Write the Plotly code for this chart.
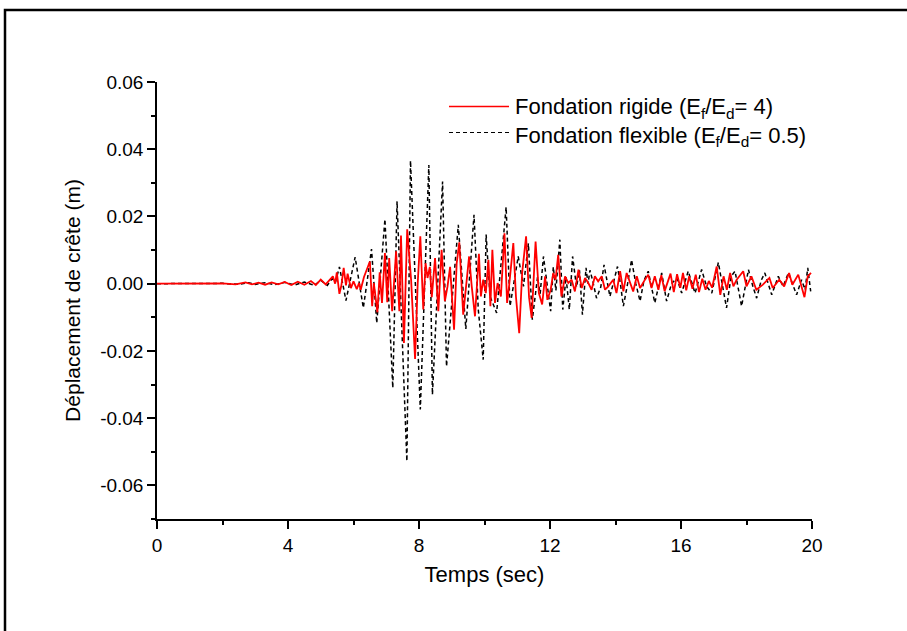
import plotly.graph_objects as go

# ---- data ----
t_rigid = [0.0, 0.5, 1.0, 1.5, 2.0, 2.4, 2.7, 2.9, 3.1, 3.3, 3.5, 3.7, 3.9, 4.1, 4.3, 4.5, 4.7, 4.85, 5.0, 5.15,
           5.37, 5.44, 5.49, 5.57, 5.63, 5.7, 5.77, 5.82, 5.92, 6.0, 6.1, 6.17, 6.22, 6.32, 6.5, 6.57, 6.62, 6.73,
           6.8, 6.87, 6.96, 7.03, 7.09, 7.18, 7.3, 7.4, 7.45, 7.54, 7.64, 7.76, 7.88, 7.96, 8.04, 8.13, 8.2, 8.26,
           8.33, 8.39, 8.49, 8.59, 8.69, 8.79, 8.87, 8.95, 9.07, 9.15, 9.23, 9.35, 9.46, 9.53, 9.61, 9.71, 9.83,
           9.89, 9.96, 10.04, 10.12, 10.18, 10.24, 10.32, 10.4, 10.5, 10.61, 10.69, 10.75, 10.88, 10.96, 11.06,
           11.15, 11.27, 11.36, 11.44, 11.56, 11.66, 11.76, 11.85, 11.92, 12.02, 12.1, 12.17, 12.25, 12.35, 12.46,
           12.56, 12.66, 12.76, 12.87, 12.97, 13.07, 13.17, 13.27, 13.37, 13.47, 13.58, 13.68, 13.78, 13.93, 14.03,
           14.14, 14.24, 14.34, 14.44, 14.54, 14.65, 14.75, 14.9, 15.0, 15.1, 15.2, 15.31, 15.4, 15.5, 15.6, 15.68,
           15.78, 15.88, 15.98, 16.06, 16.16, 16.25, 16.35, 16.45, 16.55, 16.65, 16.75, 16.85, 16.95, 17.09, 17.2,
           17.3, 17.4, 17.5, 17.6, 17.7, 17.9, 18.0, 18.15, 18.3, 18.5, 18.7, 18.8, 19.0, 19.15, 19.3, 19.4, 19.58,
           19.77, 19.87, 19.97]
v_rigid = [0.0, 0.0, 0.0001, -0.0001, 0.0001, -0.0002, 0.0004, -0.0002, 0.0003, -0.0003, 0.0004, -0.0002, 0.0005,
           -0.0004, 0.0006, -0.0003, 0.0008, -0.0004, 0.0012, -0.0002,
           0.0022, 0.0, 0.0034, -0.003, -0.0005, 0.0047, -0.0005, 0.003, -0.0013, 0.0007, -0.0016, 0.0002, -0.0018,
           0.002, 0.0066, -0.0067, 0.0002, -0.0085, 0.0034, -0.0057, 0.0091, -0.0055, 0.0076, -0.0082, 0.0096,
           -0.0082, 0.0143, -0.0176, 0.0162, 0.001, -0.0224, 0.0, 0.0141, -0.0077, 0.0061, 0.0017, 0.005, -0.004,
           0.0076, -0.0082, 0.0101, -0.0052, -0.0009, 0.005, -0.0137, 0.006, 0.0123, -0.0092, 0.0002, 0.0081,
           -0.0008, -0.0097, 0.0089, -0.0038, 0.0012, -0.0028, 0.0071, -0.0067, 0.0101, -0.0057, 0.0002, -0.0038,
           0.015, -0.0057, -0.0008, 0.0121, -0.0038, -0.0147, 0.0032, 0.0141, -0.004, -0.0102, 0.0125, -0.0028,
           -0.0062, 0.0022, -0.0048, -0.0018, 0.0032, 0.0012, 0.0086, -0.0038, 0.0022, 0.0002, 0.0012, -0.0023,
           0.0042, -0.0013, 0.0017, 0.0002, -0.0018, 0.0022, 0.0007, 0.0022, -0.0018, -0.0008, 0.0012, -0.0028,
           0.0037, -0.0023, 0.0032, 0.0002, -0.0023, 0.0022, -0.0013, 0.0012, 0.0027, -0.0013, 0.0022, -0.0018,
           0.0025, -0.0022, 0.0005, 0.003, -0.0025, 0.0028, -0.0012, 0.0032, -0.002, 0.0022, -0.0015, 0.0027,
           -0.0025, 0.0015, -0.0018, 0.0008, -0.0012, 0.0051, -0.0033, 0.0022, -0.0018, 0.0032, -0.0008, 0.0012,
           0.0037, -0.0008, 0.0022, -0.0018, -0.0003, 0.0017, -0.0013, 0.0012, -0.0008, 0.0032, -0.0003, 0.0027,
           -0.004, 0.0022, 0.0032]

t_flex = [0.0, 1.0, 2.0, 2.5, 2.8, 3.0, 3.3, 3.6, 3.9, 4.2, 4.5, 4.8, 5.0, 5.2, 5.35, 5.45, 5.57, 5.77, 5.9, 6.05,
          6.18, 6.3, 6.42, 6.55, 6.71, 6.96, 7.2, 7.33, 7.63, 7.74, 8.04, 8.3, 8.41, 8.72, 8.84, 9.2, 9.43, 9.68,
          9.81, 9.96, 10.05, 10.17, 10.37, 10.66, 10.78, 11.03, 11.19, 11.34, 11.46, 11.62, 11.7, 11.8, 12.02, 12.1,
          12.18, 12.3, 12.39, 12.49, 12.59, 12.69, 12.81, 12.9, 12.99, 13.1, 13.16, 13.22, 13.3, 13.42, 13.55, 13.65,
          13.83, 13.95, 14.06, 14.15, 14.24, 14.37, 14.49, 14.62, 14.75, 14.87, 15.0, 15.2, 15.41, 15.56, 15.71,
          15.87, 16.02, 16.12, 16.22, 16.43, 16.63, 16.78, 16.94, 17.14, 17.39, 17.53, 17.65, 17.85, 18.06, 18.2,
          18.31, 18.45, 18.56, 18.77, 18.97, 19.12, 19.28, 19.53, 19.68, 19.79, 19.87, 19.96]
v_flex = [0.0, 0.0, 0.0001, -0.0002, 0.0003, -0.0002, 0.0003, -0.0003, 0.0004, -0.0004, 0.0005, -0.0005, 0.001,
          -0.0005, 0.0015, 0.0005, 0.005, -0.005, 0.001, 0.0079, 0.0, -0.0072, 0.001, 0.0103, -0.0117, 0.0192,
          -0.031, 0.0245, -0.0528, 0.0366, -0.0374, 0.0353, -0.033, 0.0304, -0.0246, 0.0175, -0.0135, 0.0205,
          -0.0077, -0.0226, 0.0146, -0.0038, -0.0087, 0.0228, -0.0067, 0.0081, -0.0008, 0.012, -0.0107, 0.002,
          -0.003, 0.0081, -0.0082, 0.005, -0.002, 0.0131, -0.0077, 0.002, -0.0077, 0.0081, -0.001, 0.004, -0.0092,
          0.0047, 0.0, 0.004, 0.001, -0.0043, -0.001, 0.0056, -0.0038, 0.0005, 0.0051, 0.0, -0.0067, 0.0, 0.0071,
          0.0, -0.0052, 0.001, 0.0037, -0.0057, 0.0032, -0.0052, 0.0, 0.0017, -0.0028, 0.0005, 0.0037, -0.0028,
          0.0042, -0.0008, -0.0028, 0.0063, -0.0072, 0.0022, 0.0037, -0.0067, 0.0042, -0.001, -0.0043, 0.001,
          0.0032, -0.0033, 0.0022, -0.0008, 0.0032, -0.0033, 0.0012, -0.0018, 0.0047, -0.0023]

x_tickvals = [0, 4, 8, 12, 16, 20]
x_ticktext = ["0", "4", "8", "12", "16", "20"]
y_tickvals = [-0.06, -0.04, -0.02, 0.0, 0.02, 0.04, 0.06]
y_ticktext = ["-0.06", "-0.04", "-0.02", "0.00", "0.02", "0.04", "0.06"]

name_rigid = "Fondation rigide (E<sub>f</sub>/E<sub>d</sub>= 4)"
name_flex = "Fondation flexible (E<sub>f</sub>/E<sub>d</sub>= 0.5)"

FONT = "Liberation Sans, Arial, sans-serif"

fig = go.Figure()
fig.add_trace(go.Scatter(x=t_flex, y=v_flex, mode="lines", name=name_flex, showlegend=False,
                         line=dict(color="black", width=1.5, dash="4px,3px")))
fig.add_trace(go.Scatter(x=t_rigid, y=v_rigid, mode="lines", name=name_rigid, showlegend=False,
                         line=dict(color="#ff0000", width=1.8)))

W, H = 907, 631
L, R, T, B = 157, 812, 82, 519


def px(x):
    return (x - L) / (R - L)


def py(y):
    return (B - y) / (B - T)


shapes = [
    # outer frame
    dict(type="rect", xref="paper", yref="paper", x0=px(5), x1=px(960), y0=py(700), y1=py(10),
         line=dict(color="black", width=2.5), fillcolor="rgba(0,0,0,0)"),
    # legend samples
    dict(type="line", xref="paper", yref="paper", x0=px(449), x1=px(509), y0=py(106.5), y1=py(106.5),
         line=dict(color="#ff0000", width=1.5)),
    dict(type="line", xref="paper", yref="paper", x0=px(449), x1=px(509), y0=py(132.5), y1=py(132.5),
         line=dict(color="black", width=1.2, dash="4px,3px")),
]
annotations = [
    dict(xref="paper", yref="paper", x=px(513), y=py(122), xanchor="left", yanchor="middle", align="left",
         text=name_rigid + "<br>" + name_flex, showarrow=False,
         font=dict(family=FONT, size=22, color="black")),
]

fig.update_layout(
    width=W, height=H,
    margin=dict(l=L, r=W - R, t=T, b=H - B, pad=0),
    paper_bgcolor="white", plot_bgcolor="white",
    font=dict(family=FONT, color="black"),
    shapes=shapes, annotations=annotations,
    showlegend=False,
)
fig.update_xaxes(
    range=[0, 20], showgrid=False, zeroline=False, showline=True, linecolor="black", linewidth=1.5,
    ticks="outside", ticklen=8, tickwidth=1.5, tickcolor="black",
    tickvals=x_tickvals, ticktext=x_ticktext, tickfont=dict(size=19, family=FONT),
    minor=dict(ticks="outside", ticklen=4, tickwidth=1.5, tickcolor="black", dtick=2, tick0=0, showgrid=False),
    title=dict(text="Temps (sec)", font=dict(size=22, family=FONT), standoff=12),
)
fig.update_yaxes(
    range=[-0.07, 0.06], showgrid=False, zeroline=False, showline=True, linecolor="black", linewidth=1.5,
    ticks="outside", ticklen=8, tickwidth=1.5, tickcolor="black",
    tickvals=y_tickvals, ticktext=y_ticktext, tickfont=dict(size=19, family=FONT),
    minor=dict(ticks="outside", ticklen=4, tickwidth=1.5, tickcolor="black", dtick=0.01, tick0=0, showgrid=False),
    title=dict(text="Déplacement de crête (m)", font=dict(size=21, family=FONT), standoff=14),
)

fig.write_html("out.html", config={"displayModeBar": False},
               post_script="document.body.style.margin='0';document.body.style.overflow='hidden';")
